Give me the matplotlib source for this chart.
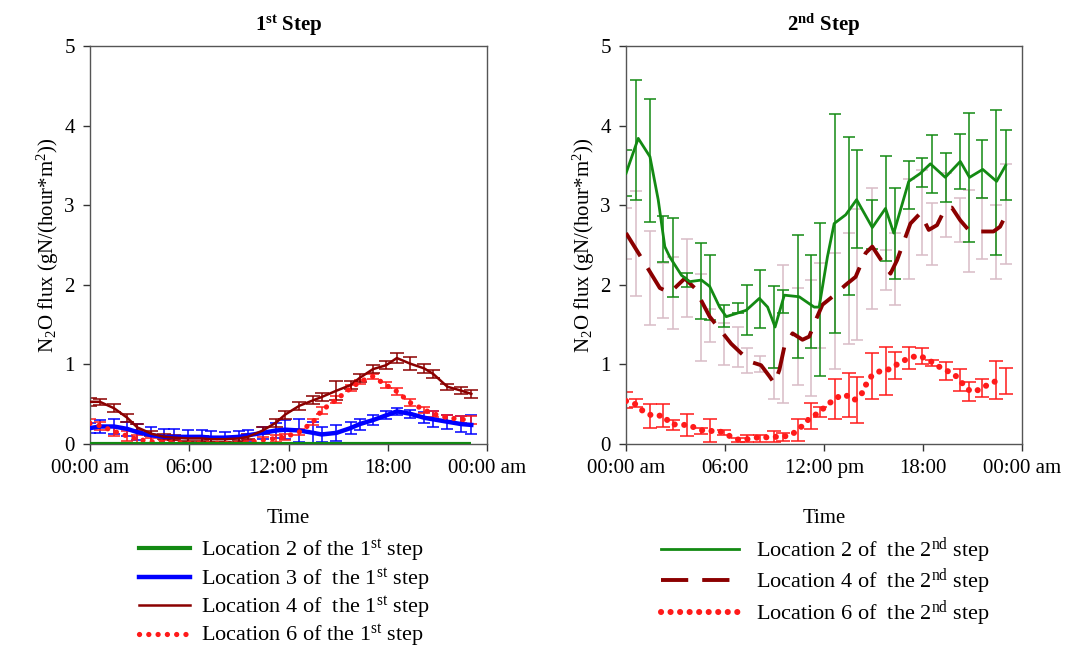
import matplotlib
matplotlib.use("Agg")
import matplotlib.pyplot as plt
from matplotlib.lines import Line2D
import numpy as np

plt.rcParams['font.family'] = ['Liberation Serif', 'DejaVu Serif']
plt.rcParams['mathtext.fontset'] = 'custom'
plt.rcParams['mathtext.rm'] = 'Liberation Serif'
plt.rcParams['mathtext.it'] = 'Liberation Serif:italic'
plt.rcParams['mathtext.bf'] = 'Liberation Serif:bold'

# ---------------- data ----------------
x_ticks = [0, 6, 12, 18, 24]
x_tick_labels = ["00:00 am", "06:00", "12:00 pm", "18:00", "00:00 am"]
y_ticks = [0, 1, 2, 3, 4, 5]

# Step 1 (hours of day)
t1 = [0, 0.6, 1.45, 2.25, 2.85, 3.7, 4.5, 5.1, 5.9, 6.75, 7.3, 8.15, 9.0, 9.55,
      10.45, 11.25, 11.8, 12.65, 13.5, 14.0, 14.9, 15.75, 16.3, 17.1, 17.9,
      18.55, 19.35, 20.2, 20.75, 21.6, 22.45, 23.05]
s1_loc2 = [0.0] * 32
s1_loc3 = [0.20, 0.22, 0.22, 0.19, 0.15, 0.11, 0.09, 0.09, 0.09, 0.09, 0.08, 0.08,
           0.09, 0.11, 0.14, 0.17, 0.18, 0.17, 0.14, 0.12, 0.14, 0.20, 0.25, 0.30,
           0.36, 0.41, 0.38, 0.33, 0.31, 0.28, 0.25, 0.24]
s1_loc3_err = [0.06, 0.08, 0.09, 0.09, 0.10, 0.10, 0.10, 0.10, 0.09, 0.09, 0.08,
               0.07, 0.07, 0.07, 0.08, 0.10, 0.12, 0.14, 0.14, 0.10, 0.10, 0.08,
               0.07, 0.06, 0.05, 0.04, 0.05, 0.07, 0.10, 0.09, 0.10, 0.12]
s1_loc4 = [0.53, 0.53, 0.45, 0.33, 0.21, 0.13, 0.09, 0.08, 0.07, 0.07, 0.06, 0.06,
           0.07, 0.09, 0.17, 0.27, 0.37, 0.48, 0.55, 0.59, 0.67, 0.74, 0.83, 0.94,
           0.99, 1.08, 1.01, 0.95, 0.88, 0.72, 0.67, 0.63]
s1_loc4_err = [0.05, 0.04, 0.05, 0.05, 0.04, 0.03, 0.03, 0.03, 0.03, 0.03, 0.03,
               0.03, 0.03, 0.03, 0.04, 0.05, 0.05, 0.05, 0.05, 0.05, 0.12, 0.05,
               0.05, 0.05, 0.05, 0.06, 0.08, 0.06, 0.05, 0.04, 0.04, 0.05]
s1_loc6 = [0.26, 0.23, 0.16, 0.10, 0.06, 0.03, 0.02, 0.02, 0.01, 0.01, 0.01, 0.01,
           0.01, 0.02, 0.05, 0.07, 0.09, 0.15, 0.28, 0.42, 0.56, 0.70, 0.78, 0.85,
           0.74, 0.66, 0.52, 0.43, 0.38, 0.33, 0.31, 0.30]
s1_loc6_err = [0.06, 0.05, 0.06, 0.06, 0.05, 0.04, 0.03, 0.03, 0.02, 0.02, 0.02,
               0.02, 0.02, 0.03, 0.04, 0.04, 0.04, 0.04, 0.04, 0.04, 0.04, 0.04,
               0.03, 0.03, 0.04, 0.04, 0.04, 0.04, 0.04, 0.04, 0.04, 0.05]

# Step 2 error-bar times
t2 = [0, 0.58, 1.45, 2.23, 2.83, 3.68, 4.52, 5.07, 5.91, 6.76, 7.30, 8.14, 8.99,
      9.53, 10.43, 11.22, 11.76, 12.67, 13.51, 13.99, 14.90, 15.74, 16.28, 17.13,
      17.91, 18.52, 19.36, 20.21, 20.75, 21.59, 22.44, 23.04]
s2_loc2_lo = [3.12, 3.07, 2.79, 2.29, 1.85, 1.97, 1.57, 1.56, 1.47, 1.65, 1.37, 1.46,
              0.96, 1.65, 1.08, 1.20, 0.86, 1.39, 1.87, 2.46, 2.45, 2.30, 2.07, 2.95,
              3.23, 3.15, 3.04, 3.20, 2.54, 3.09, 2.37, 3.07]
s2_loc2_hi = [3.69, 4.57, 4.34, 2.86, 2.84, 2.15, 2.53, 2.37, 1.75, 1.77, 2.00, 2.19,
              1.98, 1.93, 2.62, 2.37, 2.78, 4.15, 3.86, 3.69, 3.07, 3.62, 3.22, 3.56,
              3.59, 3.88, 3.65, 3.90, 4.16, 3.82, 4.20, 3.95]
s2_loc4_lo = [2.33, 1.86, 1.49, 1.58, 1.44, 1.59, 1.04, 1.28, 0.99, 0.97, 0.89, 0.91,
              0.56, 0.52, 0.74, 0.60, 1.21, 0.94, 1.26, 1.31, 1.70, 1.93, 1.75, 2.07,
              2.37, 2.25, 2.60, 2.54, 2.16, 2.33, 2.07, 2.26]
s2_loc4_hi = [2.97, 3.18, 2.67, 2.27, 2.35, 2.57, 2.14, 1.70, 1.52, 1.47, 1.20, 1.11,
              0.95, 2.25, 1.96, 2.06, 2.27, 2.40, 2.65, 2.95, 3.22, 2.44, 2.65, 3.33,
              3.44, 3.03, 3.40, 3.09, 3.19, 3.09, 3.00, 3.52]
s2_loc6_lo = [0.45, 0.46, 0.20, 0.22, 0.17, 0.10, 0.13, 0.03, 0.11, 0.03, 0.02, 0.03,
              0.03, 0.04, 0.04, 0.19, 0.34, 0.32, 0.34, 0.27, 0.57, 0.61, 0.82, 0.94,
              1.00, 0.98, 0.80, 0.67, 0.54, 0.59, 0.56, 0.63]
s2_loc6_hi = [0.65, 0.57, 0.50, 0.50, 0.30, 0.38, 0.20, 0.31, 0.18, 0.08, 0.11, 0.11,
              0.16, 0.14, 0.31, 0.51, 0.46, 0.82, 0.89, 0.84, 1.14, 1.22, 1.15, 1.22,
              1.21, 1.06, 1.03, 0.94, 0.78, 0.82, 1.04, 0.96]

# Step 2 curves
s2_loc2_t = [0, 0.74, 1.45, 1.95, 2.35, 2.65, 3.36, 3.86, 4.57, 5.07, 5.67, 6.07,
             6.68, 7.28, 8.08, 8.58, 9.03, 9.59, 10.49, 11.40, 11.70, 12.20, 12.61,
             13.31, 13.97, 14.92, 15.72, 16.22, 17.13, 17.83, 18.44, 19.34, 20.25,
             20.81, 21.61, 22.45, 23.0]
s2_loc2_v = [3.40, 3.84, 3.61, 3.07, 2.48, 2.35, 2.12, 2.04, 2.06, 1.98, 1.72, 1.60,
             1.64, 1.68, 1.83, 1.72, 1.47, 1.87, 1.85, 1.72, 1.72, 2.35, 2.77, 2.88,
             3.07, 2.72, 2.96, 2.65, 3.30, 3.40, 3.52, 3.35, 3.55, 3.35, 3.45, 3.30,
             3.50]
s2_loc4_t = [0, 0.84, 2.05, 2.65, 3.56, 4.16, 5.07, 6.37, 6.98, 7.58, 8.18, 8.69,
             8.99, 9.29, 9.59, 10.09, 10.69, 11.10, 11.50, 11.90, 12.50, 13.31, 13.91,
             14.52, 14.92, 15.52, 16.02, 16.42, 17.23, 17.83, 18.34, 18.84, 19.34,
             19.74, 20.25, 20.75, 21.45, 22.26, 22.66, 23.02]
s2_loc4_v = [2.65, 2.37, 1.96, 1.90, 2.08, 1.96, 1.60, 1.26, 1.14, 1.03, 0.99, 0.85,
             0.76, 0.93, 1.22, 1.39, 1.31, 1.35, 1.56, 1.75, 1.85, 2.00, 2.10, 2.40,
             2.48, 2.29, 2.14, 2.31, 2.77, 2.90, 2.69, 2.75, 2.96, 2.97, 2.81, 2.69,
             2.67, 2.67, 2.73, 2.88]
s2_loc6_t = [0, 0.58, 1.15, 1.71, 2.25, 2.71, 3.30, 3.82, 4.40, 4.96, 5.53, 6.03,
             6.62, 7.13, 7.74, 8.28, 8.85, 9.43, 9.99, 10.54, 11.06, 11.64, 12.14,
             12.71, 13.27, 13.81, 14.25, 14.52, 14.86, 15.42, 15.98, 16.56, 17.14,
             17.68, 18.25, 18.79, 19.35, 19.91, 20.39, 20.86, 21.40, 21.95, 22.53]
s2_loc6_v = [0.54, 0.50, 0.39, 0.35, 0.36, 0.25, 0.24, 0.24, 0.18, 0.16, 0.17, 0.13,
             0.06, 0.05, 0.08, 0.08, 0.09, 0.09, 0.11, 0.20, 0.31, 0.39, 0.48, 0.58,
             0.62, 0.55, 0.62, 0.74, 0.85, 0.92, 0.94, 1.02, 1.08, 1.11, 1.07, 0.99,
             0.93, 0.87, 0.76, 0.66, 0.68, 0.75, 0.80]

# ---------------- styling ----------------
GREEN = '#138a13'
BLUE = '#0000ff'
DRED = '#8b0000'
RED = '#ff1a1a'
PINK = '#d9bcc6'
FS = 15
LFS = 16

dash_style = (0, (7, 3.6))

fig = plt.figure(figsize=(10.65, 6.52), dpi=100)
ax1 = fig.add_axes([0.0845, 0.319, 0.3728, 0.6104])
ax2 = fig.add_axes([0.5878, 0.319, 0.372, 0.6104])


def eb(ax, t, lo, hi, color, cap, lw=1.1, z=2):
    lo = np.asarray(lo); hi = np.asarray(hi)
    ax.errorbar(t, (lo + hi) / 2, yerr=(hi - lo) / 2, fmt='none', ecolor=color,
                elinewidth=lw, capsize=cap, capthick=lw, zorder=z)


# Step 1
a1 = np.asarray
eb(ax1, t1, a1(s1_loc3) - a1(s1_loc3_err), a1(s1_loc3) + a1(s1_loc3_err), BLUE, 4.5, z=2)
eb(ax1, t1, a1(s1_loc6) - a1(s1_loc6_err), a1(s1_loc6) + a1(s1_loc6_err), RED, 4.5, z=2)
eb(ax1, t1, a1(s1_loc4) - a1(s1_loc4_err), a1(s1_loc4) + a1(s1_loc4_err), DRED, 4.8, z=2)
ax1.plot(t1, s1_loc3, color=BLUE, lw=3.2, zorder=4, solid_joinstyle='round')
ax1.plot(t1, s1_loc4, color=DRED, lw=1.8, zorder=5, solid_joinstyle='round')
ax1.plot(t1, s1_loc6, color=RED, lw=3.8, ls=(0, (0.01, 1.75)), dash_capstyle='round', zorder=5)
ax1.plot(t1, s1_loc2, color=GREEN, lw=3.0, zorder=6, solid_capstyle='butt')

# Step 2
eb(ax2, t2, s2_loc4_lo, s2_loc4_hi, PINK, 4.5, z=1)
eb(ax2, t2, s2_loc2_lo, s2_loc2_hi, GREEN, 4.0, z=2)
eb(ax2, t2, s2_loc6_lo, s2_loc6_hi, RED, 5.0, z=2)
ax2.plot(s2_loc4_t, s2_loc4_v, color=DRED, lw=2.8, ls=dash_style, zorder=4)
ax2.plot(s2_loc2_t, s2_loc2_v, color=GREEN, lw=2.0, zorder=5, solid_joinstyle='round')
ax2.plot(s2_loc6_t, s2_loc6_v, color=RED, lw=4.4, ls=(0, (0.01, 1.55)), dash_capstyle='round', zorder=5)

titles = [r"1$^{\mathbf{st}}$ Step", r"2$^{\mathbf{nd}}$ Step"]
for ax, title in zip([ax1, ax2], titles):
    ax.set_xlim(0, 24)
    ax.set_ylim(0, 5)
    ax.set_xticks(x_ticks)
    ax.set_xticklabels(x_tick_labels)
    ax.set_yticks(y_ticks)
    ax.tick_params(axis='both', direction='out', length=5, width=1, labelsize=FS,
                   colors='#333333', labelcolor='black', pad=6)
    for sp in ax.spines.values():
        sp.set_color('#555555')
        sp.set_linewidth(1.0)
    ax.set_title(title, fontsize=FS, fontweight='bold', pad=11)
    ax.set_xlabel("Time", fontsize=FS, labelpad=22)
    ax.set_ylabel(r"N$_2$O flux (gN/(hour*m$^2$))", fontsize=FS, labelpad=2)

# Legends
h1 = [Line2D([], [], color=GREEN, lw=3.0),
      Line2D([], [], color=BLUE, lw=3.2),
      Line2D([], [], color=DRED, lw=1.8),
      Line2D([], [], color=RED, lw=3.8, ls=(0, (0.01, 1.75)), dash_capstyle='round')]
l1 = [r"Location 2 of the 1$^{\mathrm{st}}$ step",
      r"Location 3 of  the 1$^{\mathrm{st}}$ step",
      r"Location 4 of  the 1$^{\mathrm{st}}$ step",
      r"Location 6 of the 1$^{\mathrm{st}}$ step"]
h2 = [Line2D([], [], color=GREEN, lw=2.0),
      Line2D([], [], color=DRED, lw=2.8, ls=dash_style),
      Line2D([], [], color=RED, lw=4.4, ls=(0, (0.01, 1.55)), dash_capstyle='round')]
l2 = [r"Location 2 of  the 2$^{\mathrm{nd}}$ step",
      r"Location 4 of  the 2$^{\mathrm{nd}}$ step",
      r"Location 6 of  the 2$^{\mathrm{nd}}$ step"]

fig.legend(h1, l1, loc='upper center', bbox_to_anchor=(0.267, 0.189), frameon=False,
           fontsize=LFS, handlelength=2.3, handletextpad=0.5, labelspacing=0.08,
           borderaxespad=0)
fig.legend(h2, l2, loc='upper center', bbox_to_anchor=(0.775, 0.192), frameon=False,
           fontsize=LFS, handlelength=3.5, handletextpad=0.8, labelspacing=0.06,
           borderaxespad=0)

fig.savefig("out.png", dpi=100)
